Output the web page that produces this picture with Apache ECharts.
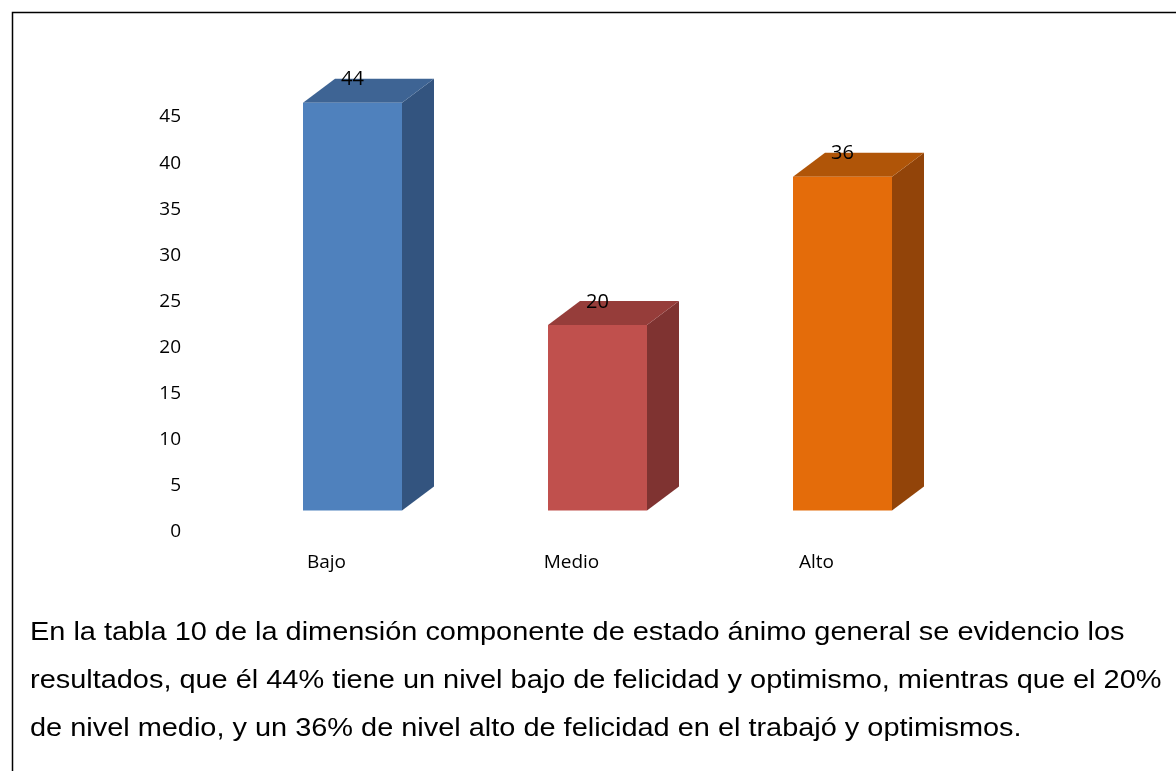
<!DOCTYPE html>
<html>
<head>
<meta charset="utf-8">
<script src="https://cdn.jsdelivr.net/npm/echarts@6/dist/echarts.min.js"></script>
<style>
html,body{margin:0;padding:0;background:#fff;}
#chart{width:1176px;height:771px;}
</style>
</head>
<body>
<div id="chart"></div>
<script>
// ---- data ----
const categories = ['Bajo', 'Medio', 'Alto'];
const values = [44, 20, 36];
const yTicks = [0, 5, 10, 15, 20, 25, 30, 35, 40, 45];
const frontColors = ['#4F81BD', '#C0504D', '#E46C0A'];
const topColors = ['#3E6494', '#963D3A', '#B05508'];
const sideColors = ['#33547F', '#7F3331', '#924409'];
const noteLines = [
  'En la tabla 10 de la dimensión componente de estado ánimo general se evidencio los',
  'resultados, que él 44% tiene un nivel bajo de felicidad y optimismo, mientras que el 20%',
  'de nivel medio, y un 36% de nivel alto de felicidad en el trabajó y optimismos.'
];

// ---- layout ----
const FRONT_W = 99, DX = 32, DY = 24, X_SHIFT = 26;
const labelFont = "'Open Sans', 'Liberation Sans', sans-serif";

const chart = echarts.init(document.getElementById('chart'));

function renderItem(params, api) {
  const idx = api.value(0);
  const base = api.coord([idx, 0]);
  const topP = api.coord([idx, api.value(1)]);
  const xc = base[0] + X_SHIFT;
  const y0 = base[1];
  const y1 = topP[1];
  const l = xc - FRONT_W / 2, r = xc + FRONT_W / 2;
  return {
    type: 'group',
    children: [
      { type: 'polygon', shape: { points: [[r, y1], [r + DX, y1 - DY], [r + DX, y0 - DY], [r, y0]] },
        style: { fill: sideColors[idx] } },
      { type: 'polygon', shape: { points: [[l, y1], [l + DX, y1 - DY], [r + DX, y1 - DY], [r, y1]] },
        style: { fill: topColors[idx] } },
      { type: 'rect', shape: { x: l, y: y1, width: FRONT_W, height: y0 - y1 },
        style: { fill: frontColors[idx] } },
      { type: 'text', x: xc, y: y1 - DY + 1,
        style: { text: String(api.value(1)), fill: '#000', font: "20px " + labelFont, align: 'center', verticalAlign: 'middle' } }
    ]
  };
}

const graphics = [
  { type: 'polyline', shape: { points: [[12.5, 771], [12.5, 12.5], [1176, 12.5]] },
    style: { stroke: '#000', lineWidth: 1.5, fill: null } }
];
noteLines.forEach((t, i) => {
  graphics.push({
    type: 'text', x: 30, y: 632.5 + i * 48, scaleX: 1.112,
    style: { text: t, fill: '#000', font: "26px 'Liberation Sans', Arial, sans-serif", align: 'left', verticalAlign: 'middle' }
  });
});

chart.setOption({
  animation: false,
  backgroundColor: '#fff',
  grid: { left: 204, top: 117, width: 735, height: 415 },
  xAxis: {
    type: 'category', data: categories,
    axisLine: { show: false }, axisTick: { show: false },
    axisLabel: { color: '#000', fontSize: 19, fontFamily: labelFont, margin: 21 }
  },
  yAxis: [
    {
      type: 'value', min: yTicks[0], max: yTicks[yTicks.length - 1], interval: 5,
      axisLine: { show: false }, axisTick: { show: false }, splitLine: { show: false },
      axisLabel: { color: '#000', fontSize: 19, fontFamily: labelFont, margin: 23 }
    },
    {
      type: 'value', min: -2.32, max: 42.45, show: false, splitLine: { show: false }
    }
  ],
  series: [{
    type: 'custom', yAxisIndex: 1, clip: false,
    renderItem: renderItem,
    data: values.map((v, i) => [i, v])
  }],
  graphic: graphics
});
</script>
</body>
</html>
